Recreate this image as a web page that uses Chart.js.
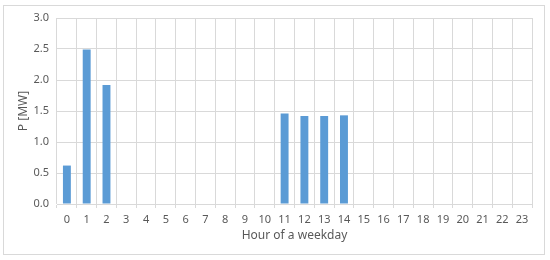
<!DOCTYPE html>
<html>
<head>
<meta charset="utf-8">
<script src="https://cdn.jsdelivr.net/npm/chart.js@4"></script>
<style>
  html, body { margin: 0; padding: 0; background: #ffffff; }
  #wrap { width: 550px; height: 260px; position: relative; }
</style>
</head>
<body>
<div id="wrap"><canvas id="powerChart"></canvas></div>
<script>
// hours of the weekday and the power drawn in each (MW)
const hours = ['0', '1', '2', '3', '4', '5', '6', '7', '8', '9', '10', '11',
               '12', '13', '14', '15', '16', '17', '18', '19', '20', '21', '22', '23'];
const powerMW = [0.62, 2.49, 1.92, 0, 0, 0, 0, 0, 0, 0, 0, 1.46,
                 1.42, 1.42, 1.43, 0, 0, 0, 0, 0, 0, 0, 0, 0];
const yTicks = [0, 0.5, 1, 1.5, 2, 2.5, 3];

const fontFamily = "'Noto Sans', 'Open Sans', sans-serif";
const textGrey = '#595959';
const gridGrey = '#d9d9d9';

// light frame round the whole chart, like the office chart area
const framePlugin = {
    id: 'frame',
    beforeDraw(chart) {
        const ctx = chart.ctx;
        ctx.save();
        ctx.fillStyle = '#ffffff';
        ctx.fillRect(0, 0, chart.width, chart.height);
        ctx.strokeStyle = '#d9d9d9';
        ctx.lineWidth = 1;
        ctx.strokeRect(3.5, 5.5, 541, 249);
        ctx.restore();
    }
};

new Chart(document.getElementById('powerChart'), {
    type: 'bar',
    data: {
        labels: hours,
        datasets: [{
            data: powerMW,
            backgroundColor: '#5b9bd5',
            borderWidth: 0,
            barPercentage: 0.4,
            categoryPercentage: 1.0
        }]
    },
    options: {
        responsive: true,
        maintainAspectRatio: false,
        animation: false,
        layout: { padding: { left: 0, right: 18, top: 18, bottom: 14 } },
        plugins: {
            legend: { display: false },
            tooltip: { enabled: false }
        },
        scales: {
            x: {
                grid: {
                    offset: true,
                    color: gridGrey,
                    tickLength: 4,
                    drawTicks: true
                },
                border: { color: gridGrey },
                ticks: {
                    color: textGrey,
                    padding: 5,
                    maxRotation: 0,
                    autoSkip: false,
                    font: { family: fontFamily, size: 11 }
                },
                title: {
                    display: true,
                    text: 'Hour of a weekday',
                    color: textGrey,
                    padding: { top: 0, bottom: 3 },
                    font: { family: fontFamily, size: 12 }
                },
                afterFit(scale) { scale.height = 42; }
            },
            y: {
                min: 0,
                max: 3,
                afterBuildTicks(scale) {
                    scale.ticks = yTicks.map(v => ({ value: v }));
                },
                grid: { color: gridGrey, drawTicks: false },
                border: { display: false },
                ticks: {
                    color: textGrey,
                    padding: 8,
                    font: { family: fontFamily, size: 11 },
                    callback: v => Number(v).toFixed(1)
                },
                title: {
                    display: true,
                    text: 'P [MW]',
                    color: textGrey,
                    padding: { top: 16, bottom: 0 },
                    font: { family: fontFamily, size: 12 }
                },
                afterFit(scale) { scale.width = 57; }
            }
        }
    },
    plugins: [framePlugin]
});
</script>
</body>
</html>
